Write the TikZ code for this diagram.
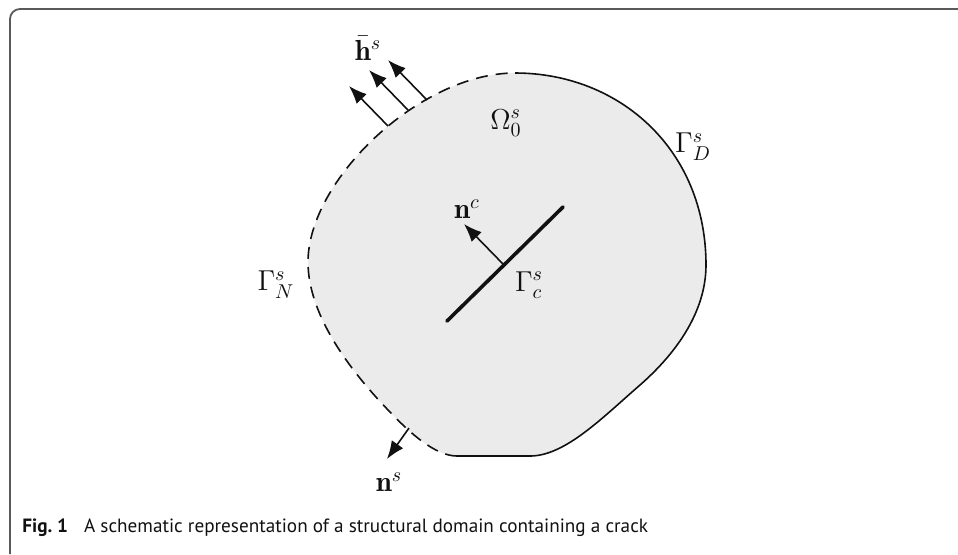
\documentclass[tikz,border=0pt]{standalone}
\usepackage{amsmath}
\usepackage{fontspec}
\setsansfont{PT Sans}
\usetikzlibrary{arrows.meta}
\definecolor{ink}{HTML}{111111}
\definecolor{bodyfill}{HTML}{EBEBEB}
\definecolor{frame}{HTML}{5A5A5A}

% boundary pieces of the domain (pixel-like units)
\newcommand{\dirichletpart}{(T) .. controls (620,73) and (706,150) .. (Rm)
  .. controls (706,315) and (672,357) .. (P)
  .. controls (602,418) and (565,456) .. (Bot) -- (J)}
\newcommand{\neumannpart}{(J) .. controls (435,456) and (409,432) .. (Q)
  .. controls (355,376) and (308,318) .. (Lm)
  .. controls (308,180) and (420,73) .. (T)}

\begin{document}
\begin{tikzpicture}[x=0.5pt,y=-0.5pt,>={Latex[length=9pt,width=7pt]},
    lbl/.style={inner sep=0pt,text=ink,font=\fontsize{14.5}{17}\selectfont},
    vec/.style={->,line width=0.8pt,draw=ink}]
  \useasboundingbox (0,0) rectangle (958,554);

  % Frame of the figure box
  \draw[draw=frame,line width=0.9pt] (10,554) -- (10,19)
    arc[start angle=180,end angle=270,radius=10] -- (958,9);

  % Domain: dashed Neumann part on the left, solid Dirichlet part on the right
  \coordinate (T) at (515,73);
  \coordinate (Rm) at (706,265);
  \coordinate (P) at (640,385);
  \coordinate (Bot) at (530,456);
  \coordinate (J) at (457,456);
  \coordinate (Q) at (390,412);
  \coordinate (Lm) at (308,262);
  \fill[fill=bodyfill] \dirichletpart -- \neumannpart -- cycle;
  \draw[draw=ink,line width=0.8pt] \dirichletpart;
  \draw[draw=ink,line width=0.8pt,dash pattern=on 6pt off 4pt] \neumannpart;

  % Crack and its normal
  \coordinate (crackA) at (447,321);
  \coordinate (crackB) at (563,207);
  \coordinate (ncFoot) at (503,264);
  \coordinate (ncTip) at (464,224);
  \draw[draw=ink,line width=1.8pt,line cap=round] (crackA) -- (crackB);
  \draw[vec] (ncFoot) -- (ncTip);

  % Applied traction on the Neumann boundary
  \foreach \i/\fx/\fy in {1/388/126,2/408/110,3/427/100}{
    \coordinate (tFoot\i) at (\fx,\fy);
    \coordinate (tTip\i) at (\fx-39,\fy-40);
    \draw[vec] (tFoot\i) -- (tTip\i);
  }

  % Outward normal
  \coordinate (nsFoot) at (409,428);
  \coordinate (nsTip) at (387,459);
  \draw[vec] (nsFoot) -- (nsTip);

  % Labels
  \node[lbl] (hbar) at (368,48) {$\bar{\mathbf{h}}^s$};
  \node[lbl] (omega) at (506,123) {$\Omega_0^s$};
  \node[lbl] (gammaD) at (693,147) {$\Gamma_D^s$};
  \node[lbl] (gammaN) at (276,285) {$\Gamma_N^s$};
  \node[lbl] (nc) at (467,209) {$\mathbf{n}^c$};
  \node[lbl] (gammaC) at (529,285) {$\Gamma_c^s$};
  \node[lbl] (ns) at (389,482) {$\mathbf{n}^s$};

  % Caption
  \node[anchor=base west,inner sep=0pt,font=\sffamily\fontsize{9.6}{11}\selectfont,text=ink]
    (caption) at (22,532) {\textbf{Fig.\ 1}\hspace{8pt}A schematic representation of a structural domain containing a crack};
\end{tikzpicture}
\end{document}
